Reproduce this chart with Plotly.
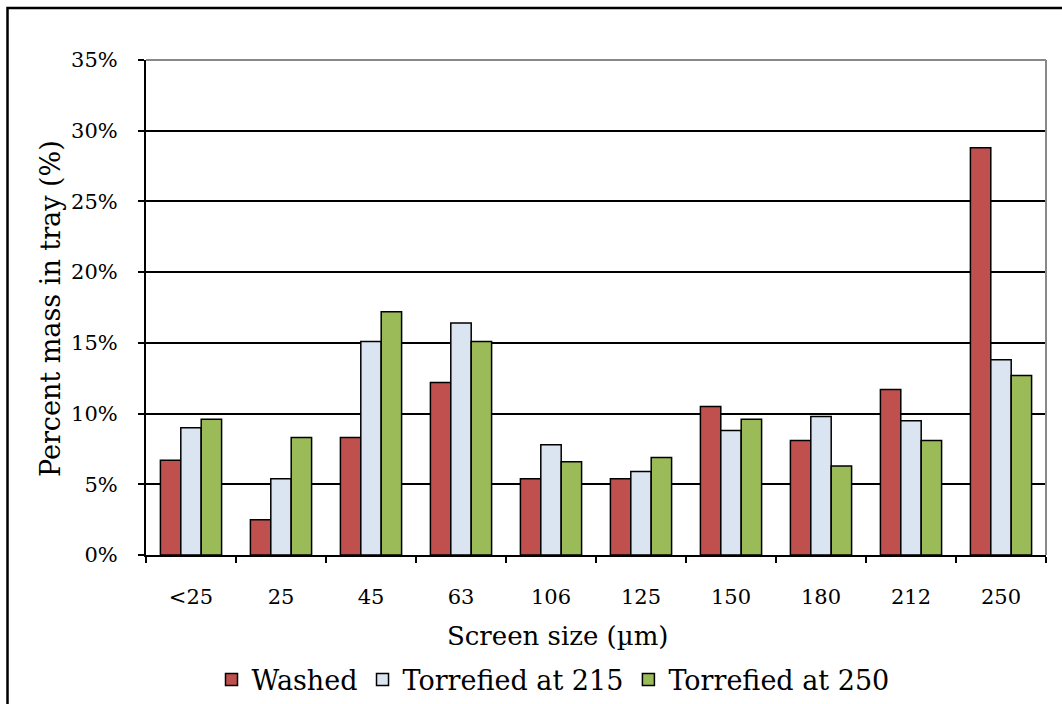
import plotly.graph_objects as go

categories = ["<25", "25", "45", "63", "106", "125", "150", "180", "212", "250"]
washed = [6.7, 2.5, 8.3, 12.2, 5.4, 5.4, 10.5, 8.1, 11.7, 28.8]
torrefied_215 = [9.0, 5.4, 15.1, 16.4, 7.8, 5.9, 8.8, 9.8, 9.5, 13.8]
torrefied_250 = [9.6, 8.3, 17.2, 15.1, 6.6, 6.9, 9.6, 6.3, 8.1, 12.7]
y_ticks = [0, 5, 10, 15, 20, 25, 30, 35]
y_tick_text = [f"{v}%" for v in y_ticks]

FONT = "DejaVu Serif"
series = [
    ("Washed", washed, "#C0504D"),
    ("Torrefied at 215", torrefied_215, "#DBE5F1"),
    ("Torrefied at 250", torrefied_250, "#9BBB59"),
]

fig = go.Figure()
for name, vals, color in series:
    fig.add_trace(go.Bar(
        x=categories, y=vals, name=name,
        marker=dict(color=color, line=dict(color="black", width=1.5)),
    ))

L, R, T, B = 146, 16, 60, 149
W, H = 1062, 704
pw, ph = W - L - R, H - T - B

def px(x):
    return (x - L) / pw

def py(y):
    return (H - B - y) / ph

fig.update_layout(
    width=W, height=H,
    margin=dict(l=L, r=R, t=T, b=B, pad=0, autoexpand=False),
    paper_bgcolor="white", plot_bgcolor="white",
    barmode="group", bargap=0.32, bargroupgap=0,
    font=dict(family=FONT, color="black", size=21),
    showlegend=True,
    legend=dict(orientation="h", x=px(553), xanchor="center", y=py(680), yanchor="middle",
                font=dict(family=FONT, size=27, color="black"),
                itemwidth=30, tracegroupgap=0, bgcolor="rgba(0,0,0,0)"),
    xaxis=dict(
        type="category", showgrid=False, showline=True, linecolor="black", linewidth=2,
        ticks="outside", tickson="boundaries", ticklen=6, tickwidth=1.5, tickcolor="black",
        tickfont=dict(family=FONT, size=21, color="black"), ticklabelstandoff=22,
    ),
    yaxis=dict(
        range=[0, 35], tickvals=y_ticks, ticktext=y_tick_text,
        showgrid=True, gridcolor="black", gridwidth=1.5,
        showline=True, linecolor="black", linewidth=2,
        ticks="outside", ticklen=6, tickwidth=1.5, tickcolor="black",
        tickfont=dict(family=FONT, size=21, color="black"), ticklabelstandoff=16,
        zeroline=False,
    ),
    annotations=[
        dict(text="Screen size (µm)", xref="paper", yref="paper", x=px(557), y=py(636),
             xanchor="center", yanchor="middle", showarrow=False,
             font=dict(family=FONT, size=26, color="black")),
        dict(text="Percent mass in tray (%)", xref="paper", yref="paper", x=px(50), y=py(309),
             xanchor="center", yanchor="middle", showarrow=False, textangle=-90,
             font=dict(family=FONT, size=27, color="black")),
    ],
    shapes=[
        dict(type="line", xref="paper", yref="paper", x0=0, x1=1, y0=1, y1=1,
             line=dict(color="#888888", width=2), layer="above"),
        dict(type="line", xref="paper", yref="paper", x0=1, x1=1, y0=0, y1=1,
             line=dict(color="#888888", width=2), layer="above"),
        dict(type="rect", xref="paper", yref="paper", x0=px(7.5), x1=px(1075), y0=py(8), y1=py(720),
             line=dict(color="black", width=2.5), fillcolor="rgba(0,0,0,0)", layer="above"),
    ],
)

fig.write_html("out.html")
